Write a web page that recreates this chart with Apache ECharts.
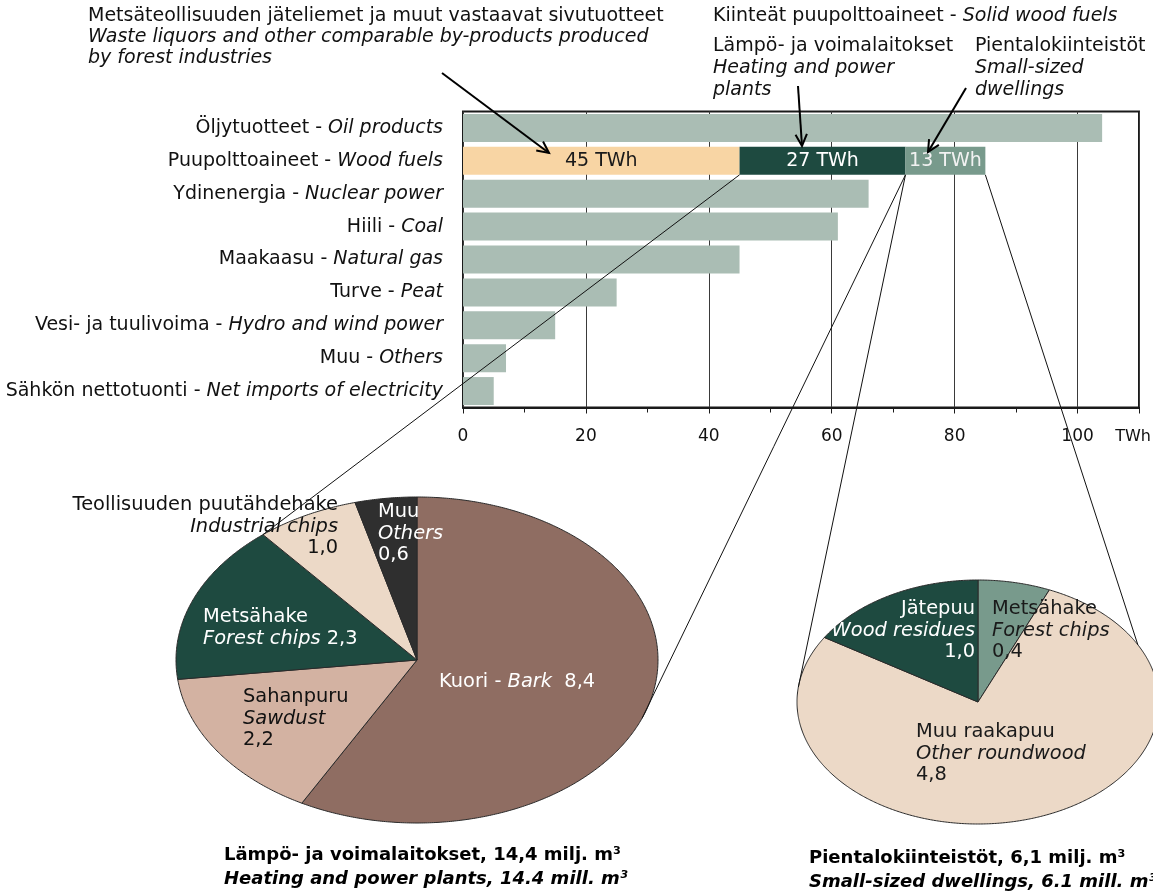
<!DOCTYPE html>
<html><head><meta charset="utf-8">
<script src="https://cdn.jsdelivr.net/npm/echarts@6/dist/echarts.min.js"></script>
<style>html,body{margin:0;padding:0;background:#fff}#c{width:1153px;height:891px}</style>
</head><body><div id="c"></div>
<script>
// ---------- data ----------
const categoriesFi = ['Öljytuotteet','Puupolttoaineet','Ydinenergia','Hiili','Maakaasu','Turve','Vesi- ja tuulivoima','Muu','Sähkön nettotuonti'];
const categoriesEn = ['Oil products','Wood fuels','Nuclear power','Coal','Natural gas','Peat','Hydro and wind power','Others','Net imports of electricity'];
const energyTWh = [104, null, 66, 61, 45, 25, 15, 7, 5];
const woodFuelParts = ['Waste liquors and other comparable by-products', 'Heating and power plants', 'Small-sized dwellings'];
const woodFuelTWh = [45, 27, 13];
const xTickLabels = [0, 20, 40, 60, 80, 100];
const xUnit = 'TWh';

const plantNamesFi = ['Kuori','Sahanpuru','Metsähake','Teollisuuden puutähdehake','Muu'];
const plantNamesEn = ['Bark','Sawdust','Forest chips','Industrial chips','Others'];
const plantValues = [8.4, 2.2, 2.3, 1.0, 0.6];
const dwellNamesFi = ['Metsähake','Muu raakapuu','Jätepuu'];
const dwellNamesEn = ['Forest chips','Other roundwood','Wood residues'];
const dwellValues = [0.4, 4.8, 1.0];

// ---------- styles / layout ----------
const FONT = "'DejaVu Sans', sans-serif";
const FS = 19;
const PFS = 19.4;
const LH = 21.5;
const barGrey = '#aabdb4';
const woodColors = ['#f8d5a4', '#1e4a40', '#789a8c'];
const woodLabelColors = ['#1a1a1a', '#ffffff', '#f2f2f2'];
const plantColors = ['#8f6d62', '#d3b2a2', '#1e4a40', '#ecd9c7', '#2f2f2f'];
const dwellColors = ['#789a8c', '#ecd9c7', '#1e4a40'];
const pie1 = {cx: 417, cy: 660, a: 241, b: 163};
const pie2 = {cx: 978, cy: 702, a: 181, b: 122};
const plantLabelLayout = [
  {x: 439, y: 682, align: 'left', color: '#ffffff', form: 'inline'},
  {x: 243, y: 697, align: 'left', color: '#111111', form: 'stack'},
  {x: 203, y: 617, align: 'left', color: '#ffffff', form: 'two'},
  {x: 338, y: 505, align: 'right', color: '#111111', form: 'stack'},
  {x: 378, y: 512, align: 'left', color: '#ffffff', form: 'stack'}
];
const dwellLabelLayout = [
  {x: 992, y: 609, align: 'left', color: '#1a1a1a', form: 'stack'},
  {x: 916, y: 732, align: 'left', color: '#1a1a1a', form: 'stack'},
  {x: 975, y: 609, align: 'right', color: '#ffffff', form: 'stack'}
];

const woodIdx = categoriesEn.indexOf('Wood fuels');
const fmt = v => v.toFixed(1).replace('.', ',');

function ellPt(p, deg) {
  const r = deg * Math.PI / 180;
  return [p.cx + p.a * Math.sin(r), p.cy - p.b * Math.cos(r)];
}
function cumAngle(values, n) {
  const tot = values.reduce((s, v) => s + v, 0);
  let c = 0; for (let k = 0; k < n; k++) c += values[k];
  return c / tot * 360;
}
function labelText(fi, en, v, form) {
  const val = fmt(v);
  if (form === 'inline') return `{f|${fi} - }{e|${en}}{f|  ${val}}`;
  if (form === 'two') return `{f|${fi}}\n{e|${en}}{f| ${val}}`;
  return `{f|${fi}}\n{e|${en}}\n{f|${val}}`;
}
function ellipsePieSeries(p, values, namesFi, namesEn, colors, layout) {
  return {
    type: 'custom',
    coordinateSystem: 'none',
    silent: true,
    data: values.map(v => [v]),
    renderItem: function (params, api) {
      const i = params.dataIndex;
      const a0 = cumAngle(values, i), a1 = cumAngle(values, i + 1);
      const pts = [[p.cx, p.cy]];
      for (let t = a0; t < a1; t += 0.5) pts.push(ellPt(p, t));
      pts.push(ellPt(p, a1));
      const L = layout[i];
      const richBase = {fontFamily: FONT, fontSize: PFS, fill: L.color, lineHeight: LH, align: L.align};
      return {
        type: 'group',
        children: [
          {type: 'polygon', shape: {points: pts}, style: {fill: colors[i], stroke: '#2a2a2a', lineWidth: 1}},
          {type: 'text', x: L.x, y: L.y - LH / 2, z2: 100,
            style: {text: labelText(namesFi[i], namesEn[i], api.value(0), L.form), align: L.align, verticalAlign: 'top',
              fill: L.color, fontFamily: FONT, fontSize: PFS,
              rich: {f: Object.assign({}, richBase), e: Object.assign({fontStyle: 'italic'}, richBase)}}}
        ]
      };
    }
  };
}

const chart = echarts.init(document.getElementById('c'), null, {renderer: 'canvas'});

const barSeries = [{
  type: 'bar', stack: 'energy', barWidth: 28, silent: true,
  data: energyTWh.map(v => v == null ? '-' : v),
  itemStyle: {color: barGrey}
}].concat(woodFuelTWh.map((v, i) => ({
  type: 'bar', stack: 'energy', barWidth: 28, silent: true, name: woodFuelParts[i],
  data: categoriesFi.map((_, k) => k === woodIdx ? v : '-'),
  itemStyle: {color: woodColors[i]},
  label: {show: true, position: 'inside', formatter: p => p.value + ' TWh', color: woodLabelColors[i], fontFamily: FONT, fontSize: FS}
})));

chart.setOption({
  animation: false,
  backgroundColor: '#ffffff',
  grid: {left: 463, top: 111.5, width: 676, height: 296, show: true, borderColor: '#1a1a1a', borderWidth: 2, backgroundColor: 'transparent', containLabel: false, outerBoundsMode: 'none'},
  xAxis: {
    type: 'value', min: 0, max: 110, interval: 20,
    axisLine: {show: true, lineStyle: {color: '#1a1a1a', width: 2}},
    axisTick: {show: true, length: 6, lineStyle: {color: '#1a1a1a'}},
    minorTick: {show: true, splitNumber: 2, length: 5, lineStyle: {color: '#1a1a1a'}},
    splitLine: {show: true, lineStyle: {color: '#3a3a3a', width: 1}},
    axisLabel: {show: true, showMaxLabel: true, showMinLabel: true, margin: 21, color: '#111', fontFamily: FONT, fontSize: 17,
      formatter: v => xTickLabels.indexOf(v) >= 0 ? String(v) : (v === 110 ? '{u|' + xUnit + '}' : ''),
      rich: {u: {fontFamily: FONT, fontSize: 16, color: '#111', padding: [0, 12, 0, 0]}}}
  },
  yAxis: {
    type: 'category', inverse: true, data: categoriesFi,
    axisLine: {show: false}, axisTick: {show: false}, splitLine: {show: false},
    axisLabel: {margin: 20, formatter: (v, idx) => `{f|${categoriesFi[idx]} - }{e|${categoriesEn[idx]}}`,
      rich: {f: {fontFamily: FONT, fontSize: FS, color: '#111'}, e: {fontFamily: FONT, fontSize: FS, color: '#111', fontStyle: 'italic'}}}
  },
  series: barSeries.concat([
    ellipsePieSeries(pie1, plantValues, plantNamesFi, plantNamesEn, plantColors, plantLabelLayout),
    ellipsePieSeries(pie2, dwellValues, dwellNamesFi, dwellNamesEn, dwellColors, dwellLabelLayout)
  ])
});

// ---------- annotations ----------
const cp = (val) => chart.convertToPixel({xAxisIndex: 0, yAxisIndex: 0}, [val, woodIdx]);
const barHalf = 14;
const e1 = cp(woodFuelTWh[0]);
const e2 = cp(woodFuelTWh[0] + woodFuelTWh[1]);
const e3 = cp(woodFuelTWh[0] + woodFuelTWh[1] + woodFuelTWh[2]);
const connectors = [
  [[e1[0], e1[1] + barHalf], ellPt(pie1, cumAngle(plantValues, 3))],
  [[e2[0], e2[1] + barHalf], ellPt(pie1, 111)],
  [[e2[0], e2[1] + barHalf], ellPt(pie2, 277)],
  [[e3[0], e3[1] + barHalf], ellPt(pie2, 62)]
];
const arrows = [
  {from: [442, 73], to: [549, 153]},
  {from: [798, 86], to: [802, 146]},
  {from: [966, 88], to: [928, 152]}
];

const g = [];
connectors.forEach(c => g.push({type: 'line', z: 50, silent: true,
  shape: {x1: c[0][0], y1: c[0][1], x2: c[1][0], y2: c[1][1]}, style: {stroke: '#111', lineWidth: 1}}));
arrows.forEach(a => {
  const dx = a.to[0] - a.from[0], dy = a.to[1] - a.from[1];
  const len = Math.hypot(dx, dy), ux = dx / len, uy = dy / len;
  const hl = 13, ang = 26 * Math.PI / 180;
  const rot = (s) => [a.to[0] - hl * (ux * Math.cos(s * ang) - uy * Math.sin(s * ang)), a.to[1] - hl * (ux * Math.sin(s * ang) + uy * Math.cos(s * ang))];
  g.push({type: 'line', z: 60, silent: true, shape: {x1: a.from[0], y1: a.from[1], x2: a.to[0], y2: a.to[1]}, style: {stroke: '#000', lineWidth: 2}});
  g.push({type: 'polyline', z: 60, silent: true, shape: {points: [rot(1), a.to, rot(-1)]}, style: {stroke: '#000', lineWidth: 2, fill: null}});
});
const rich = {
  f: {fontFamily: FONT, fontSize: FS, fill: '#111', lineHeight: 21},
  e: {fontFamily: FONT, fontSize: FS, fill: '#111', lineHeight: 21, fontStyle: 'italic'}
};
const richTxt = (x, y, text, lh) => ({type: 'text', x: x, y: y, z: 70, silent: true,
  style: {text: text, align: 'left', verticalAlign: 'top', fontFamily: FONT, fontSize: FS, fill: '#111',
    rich: {f: Object.assign({}, rich.f, {lineHeight: lh}), e: Object.assign({}, rich.e, {lineHeight: lh})}}});
g.push(richTxt(88, 6, '{f|Metsäteollisuuden jäteliemet ja muut vastaavat sivutuotteet}\n{e|Waste liquors and other comparable by-products produced}\n{e|by forest industries}', 21));
g.push(richTxt(713, 6, '{f|Kiinteät puupolttoaineet - }{e|Solid wood fuels}', 21));
g.push(richTxt(713, 35, '{f|Lämpö- ja voimalaitokset}\n{e|Heating and power}\n{e|plants}', 22));
g.push(richTxt(975, 35, '{f|Pientalokiinteistöt}\n{e|Small-sized}\n{e|dwellings}', 22));
const capRich = {
  b: {fontFamily: FONT, fontSize: 18, fontWeight: 'bold', fill: '#000', lineHeight: 24},
  bi: {fontFamily: FONT, fontSize: 18, fontWeight: 'bold', fontStyle: 'italic', fill: '#000', lineHeight: 24}
};
const capTxt = (x, y, text) => ({type: 'text', x: x, y: y, z: 70, silent: true,
  style: {text: text, align: 'left', verticalAlign: 'top', fontFamily: FONT, fontSize: 18, fill: '#000', rich: capRich}});
g.push(capTxt(224, 843, '{b|Lämpö- ja voimalaitokset, 14,4 milj. m³}\n{bi|Heating and power plants, 14.4 mill. m³}'));
g.push(capTxt(809, 846, '{b|Pientalokiinteistöt, 6,1 milj. m³}\n{bi|Small-sized dwellings, 6.1 mill. m³}'));

chart.setOption({graphic: g});
</script>
</body></html>
